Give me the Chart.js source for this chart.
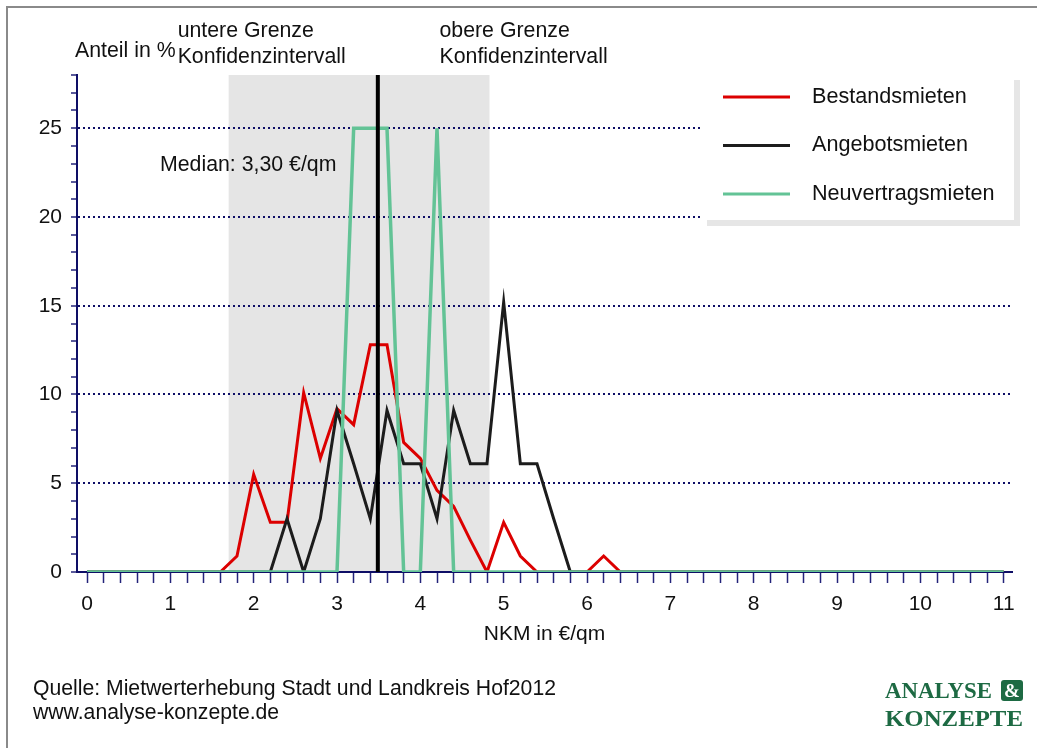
<!DOCTYPE html>
<html>
<head>
<meta charset="utf-8">
<script src="https://cdn.jsdelivr.net/npm/chart.js@4.4.0/dist/chart.umd.min.js"></script>
<style>
  html, body { margin: 0; padding: 0; background: #fff; }
  #wrap { position: relative; width: 1037px; height: 748px; }
</style>
</head>
<body>
<div id="wrap"><canvas id="mietChart" width="1037" height="748"></canvas></div>
<script>
// NKM in €/qm, Schritte von 0,2
const xValues = [
  0, 0.2, 0.4, 0.6, 0.8, 1, 1.2, 1.4, 1.6, 1.8,
  2, 2.2, 2.4, 2.6, 2.8, 3, 3.2, 3.4, 3.6, 3.8,
  4, 4.2, 4.4, 4.6, 4.8, 5, 5.2, 5.4, 5.6, 5.8,
  6, 6.2, 6.4, 6.6, 6.8, 7, 7.2, 7.4, 7.6, 7.8,
  8, 8.2, 8.4, 8.6, 8.8, 9, 9.2, 9.4, 9.6, 9.8,
  10, 10.2, 10.4, 10.6, 10.8, 11
];
const bestandsmieten = [
  0, 0, 0, 0, 0, 0, 0, 0, 0, 0.9,
  5.5, 2.8, 2.8, 10.1, 6.4, 9.2, 8.3, 12.8, 12.8, 7.3,
  6.4, 4.6, 3.7, 1.8, 0, 2.8, 0.9, 0, 0, 0,
  0, 0.9, 0, 0, 0, 0, 0, 0, 0, 0,
  0, 0, 0, 0, 0, 0, 0, 0, 0, 0,
  0, 0, 0, 0, 0, 0
];
const angebotsmieten = [
  0, 0, 0, 0, 0, 0, 0, 0, 0, 0,
  0, 0, 3.0, 0, 3.0, 9.1, 6.1, 3.0, 9.1, 6.1,
  6.1, 3.0, 9.1, 6.1, 6.1, 15.2, 6.1, 6.1, 3.0, 0,
  0, 0, 0, 0, 0, 0, 0, 0, 0, 0,
  0, 0, 0, 0, 0, 0, 0, 0, 0, 0,
  0, 0, 0, 0, 0, 0
];
const neuvertragsmieten = [
  0, 0, 0, 0, 0, 0, 0, 0, 0, 0,
  0, 0, 0, 0, 0, 0, 25, 25, 25, 0,
  0, 25, 0, 0, 0, 0, 0, 0, 0, 0,
  0, 0, 0, 0, 0, 0, 0, 0, 0, 0,
  0, 0, 0, 0, 0, 0, 0, 0, 0, 0,
  0, 0, 0, 0, 0, 0
];
const seriesNames = ['Bestandsmieten', 'Angebotsmieten', 'Neuvertragsmieten'];
const seriesColors = ['#dc0000', '#1c1c1c', '#63c396'];
const xTickLabels = [0, 1, 2, 3, 4, 5, 6, 7, 8, 9, 10, 11];
const yTickLabels = [0, 5, 10, 15, 20, 25];
const confLower = 1.7;
const confUpper = 4.83;
const medianValue = 3.49;

const FONT = "'Liberation Sans', Arial, sans-serif";
const NAVY = '#0e0e66';

function points(vals) {
  return xValues.map((x, i) => ({ x: x, y: vals[i] }));
}

// grauer Bereich Konfidenzintervall
const bandPlugin = {
  id: 'band',
  beforeDraw(chart) {
    const { ctx, scales: { x, y } } = chart;
    const l = x.getPixelForValue(confLower);
    const r = x.getPixelForValue(confUpper);
    const t = y.getPixelForValue(28);
    const b = y.getPixelForValue(0);
    ctx.save();
    ctx.fillStyle = '#e5e5e5';
    ctx.fillRect(l, t, r - l, b - t);
    ctx.restore();
  }
};

// Texte, Legende, Logo, Rahmen
const extrasPlugin = {
  id: 'extras',
  afterDraw(chart) {
    const { ctx, scales: { x, y } } = chart;
    ctx.save();

    // Rahmen
    ctx.strokeStyle = '#8a8a8a';
    ctx.lineWidth = 2;
    ctx.beginPath();
    ctx.moveTo(7, 748);
    ctx.lineTo(7, 7);
    ctx.lineTo(1037, 7);
    ctx.stroke();

    ctx.fillStyle = '#111';
    ctx.font = '21.3px ' + FONT;
    ctx.textBaseline = 'middle';
    ctx.textAlign = 'left';
    ctx.fillText('Anteil in %', 75, 51);
    const lx = x.getPixelForValue(confLower) - 51;
    const ux = x.getPixelForValue(confUpper) - 50;
    ctx.fillText('untere Grenze', lx, 31);
    ctx.fillText('Konfidenzintervall', lx, 57);
    ctx.fillText('obere Grenze', ux, 31);
    ctx.fillText('Konfidenzintervall', ux, 57);
    ctx.fillText('Median: 3,30 €/qm', 160, 165);

    // Legende
    ctx.fillStyle = '#e6e6e6';
    ctx.fillRect(707, 80, 313, 146);
    ctx.fillStyle = '#ffffff';
    ctx.fillRect(700, 74, 314, 146);
    seriesNames.forEach((name, i) => {
      const ly = 97 + i * 48.5;
      ctx.strokeStyle = seriesColors[i];
      ctx.lineWidth = 3;
      ctx.beginPath();
      ctx.moveTo(723, ly);
      ctx.lineTo(790, ly);
      ctx.stroke();
      ctx.fillStyle = '#111';
      ctx.font = '21.6px ' + FONT;
      ctx.fillText(name, 812, ly);
    });

    // Quelle
    ctx.fillStyle = '#111';
    ctx.font = '21.2px ' + FONT;
    ctx.fillText('Quelle: Mietwerterhebung Stadt und Landkreis Hof2012', 33, 689);
    ctx.fillText('www.analyse-konzepte.de', 33, 713);

    // Logo
    const green = '#1d6a43';
    ctx.fillStyle = green;
    ctx.font = 'bold 23px "Liberation Serif", "Times New Roman", serif';
    ctx.textBaseline = 'alphabetic';
    const drawFit = (txt, x0, base, w) => {
      const m = ctx.measureText(txt).width;
      ctx.save();
      ctx.translate(x0, base);
      ctx.scale(w / m, 1);
      ctx.fillText(txt, 0, 0);
      ctx.restore();
    };
    drawFit('ANALYSE', 885, 698, 107);
    drawFit('KONZEPTE', 885, 726, 138);
    ctx.beginPath();
    ctx.roundRect(1001, 680, 22, 21, 3);
    ctx.fill();
    ctx.fillStyle = '#ffffff';
    ctx.font = 'bold 19px "Liberation Serif", serif';
    ctx.textAlign = 'center';
    ctx.fillText('&', 1012, 697);

    ctx.restore();
  }
};

const ctx = document.getElementById('mietChart').getContext('2d');
new Chart(ctx, {
  type: 'line',
  data: {
    datasets: [
      { label: seriesNames[0], data: points(bestandsmieten), borderColor: seriesColors[0], borderWidth: 3, pointRadius: 0, order: 3 },
      { label: seriesNames[1], data: points(angebotsmieten), borderColor: seriesColors[1], borderWidth: 3, pointRadius: 0, order: 2 },
      { label: seriesNames[2], data: points(neuvertragsmieten), borderColor: seriesColors[2], borderWidth: 3.5, pointRadius: 0, order: 1 },
      { label: 'Median', data: [{ x: medianValue, y: 0 }, { x: medianValue, y: 28 }], borderColor: '#000', borderWidth: 4, pointRadius: 0, order: 0 }
    ]
  },
  options: {
    responsive: false,
    animation: false,
    devicePixelRatio: 1,
    layout: { padding: { left: 0, top: 75, right: 25, bottom: 0 } },
    plugins: { legend: { display: false }, tooltip: { enabled: false } },
    scales: {
      x: {
        type: 'linear',
        min: -0.12,
        max: 11.1,
        afterBuildTicks: s => { s.ticks = xValues.map(v => ({ value: v })); },
        afterFit: s => { s.height = 176; },
        grid: { drawOnChartArea: false, tickLength: 11, tickColor: '#23237a', tickWidth: 1.5 },
        border: { color: NAVY, width: 2 },
        ticks: {
          autoSkip: false, maxRotation: 0, padding: 9, color: '#111',
          font: { family: FONT, size: 21 },
          callback: v => xTickLabels.includes(v) ? String(v) : ''
        },
        title: { display: true, text: 'NKM in €/qm', color: '#111', font: { family: FONT, size: 21 }, padding: { top: 0, bottom: 101 } }
      },
      y: {
        min: 0,
        max: 28,
        afterFit: s => { s.width = 77; },
        grid: {
          tickLength: 6,
          lineWidth: 2,
          tickWidth: 1.5,
          tickColor: '#23237a',
          color: c => (c.tick && c.tick.value % 5 === 0 && c.tick.value > 0 && c.tick.value < 28) ? NAVY : 'rgba(0,0,0,0)'
        },
        border: { color: NAVY, width: 2, dash: [2, 3] },
        ticks: {
          stepSize: 1, autoSkip: false, padding: 9, color: '#111',
          font: { family: FONT, size: 21 },
          callback: v => yTickLabels.includes(v) ? String(v) : ''
        }
      }
    }
  },
  plugins: [bandPlugin, extrasPlugin]
});
</script>
</body>
</html>
